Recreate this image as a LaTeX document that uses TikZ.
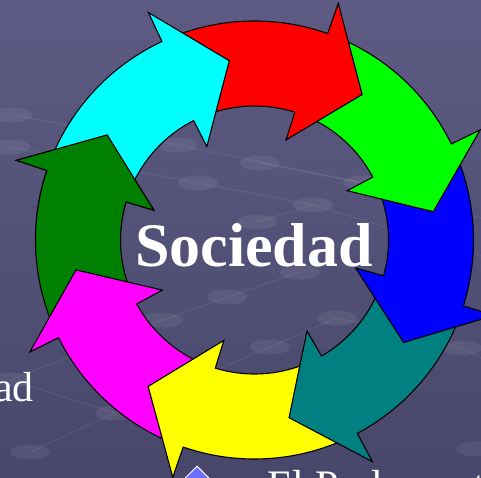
\documentclass[tikz,border=0pt]{standalone}
\usepackage{fontspec}
\setmainfont{Liberation Serif}
\usetikzlibrary{shapes.geometric,calc}

\definecolor{bgtop}{RGB}{93,91,131}
\definecolor{bgbot}{RGB}{72,71,107}
\definecolor{redc}{RGB}{255,0,0}
\definecolor{greenc}{RGB}{0,255,0}
\definecolor{bluec}{RGB}{0,0,255}
\definecolor{tealc}{RGB}{0,128,128}
\definecolor{yellowc}{RGB}{255,255,0}
\definecolor{magentac}{RGB}{255,0,255}
\definecolor{dkgreen}{RGB}{0,128,0}
\definecolor{cyanc}{RGB}{0,255,255}
\definecolor{bulletc}{RGB}{108,108,255}

% one ring arrow: #1 = tip angle, #2 = tail angle
\newcommand{\ringarrow}[2]{(#2:219pt) arc[start angle=#2, end angle=#1+17, radius=219pt]
  -- (#1+17:251pt) -- (#1:181pt) -- (#1+19:105pt) -- (#1+19:134pt)
  arc[start angle=#1+19, end angle=#2, radius=134pt] -- cycle}

\begin{document}
\begin{tikzpicture}[x=1pt,y=1pt]
     \tikzstyle{arrow_style} = [draw=black,line width=1.1pt,line join=miter]
     \tikzstyle{dot_style} = [ellipse,fill=white,fill opacity=0.07,minimum width=40pt,minimum height=15pt,inner sep=0pt]
     \tikzstyle{grid_style} = [draw=white,opacity=0.07,line width=1.2pt]
     \tikzstyle{text_style} = [text=white,inner sep=0pt]
     \useasboundingbox (0,0) rectangle (481,478);
     \clip (0,0) rectangle (481,478);
     \fill[top color=bgtop,bottom color=bgbot] (0,0) rectangle (481,478);
     % background dots
     \node[dot_style] (g1) at (13,363) {};
     \node[dot_style] (g2) at (10,331) {};
     \node[dot_style] (g3) at (177,333) {};
     \node[dot_style] (g4) at (198,295) {};
     \node[dot_style] (g5) at (260,315) {};
     \node[dot_style] (g6) at (363,295) {};
     \node[dot_style] (g7) at (313,273) {};
     \node[dot_style] (g8) at (257,256) {};
     \node[dot_style] (g9) at (300,206) {};
     \node[dot_style] (g10) at (337,160) {};
     \node[dot_style] (g11) at (270,131) {};
     \node[dot_style] (g12) at (163,158) {};
     \node[dot_style] (g13) at (227,181) {};
     \node[dot_style] (g14) at (462,130) {};
     \node[dot_style] (g15) at (476,29) {};
     \node[dot_style] (g16) at (10,98) {};
     \node[dot_style] (g17) at (115,65) {};
     \node[dot_style] (g18) at (30,26) {};
     \coordinate (e1) at (481,222);
     \coordinate (e2) at (481,120);
     \coordinate (e3) at (481,260);
     \draw[grid_style] (g1.center) -- (g3.center) -- (g6.center) -- (e3);
     \draw[grid_style] (g2.center) -- (g4.center) -- (g7.center) -- (e1);
     \draw[grid_style] (g18.center) -- (g17.center) -- (g11.center) -- (g10.center);
     \draw[grid_style] (g16.center) -- (g12.center) -- (g13.center) -- (g9.center);
     \draw[grid_style] (g16.center) -- (g17.center);
     \draw[grid_style] (g10.center) -- (g14.center) -- (e2);
     \draw[grid_style] (g5.center) -- (g6.center);
     \draw[grid_style] (g8.center) -- (g7.center);
     % ring of arrows
     \begin{scope}[shift={(254.5,238)}]
          \draw[arrow_style,fill=dkgreen] \ringarrow{144.5}{204};
          \draw[arrow_style,fill=magentac] \ringarrow{-170.5}{-112};
          \draw[arrow_style,fill=yellowc] \ringarrow{-126}{-65};
          \draw[arrow_style,fill=tealc] \ringarrow{-79}{-20.5};
          \draw[arrow_style,fill=bluec] \ringarrow{-34.5}{23};
          \draw[arrow_style,fill=greenc] \ringarrow{9}{67.5};
          \draw[arrow_style,fill=redc] \ringarrow{53.5}{112};
          \draw[arrow_style,fill=cyanc] \ringarrow{98}{158.5};
          \begin{scope}
               \clip (0,0) -- (139:300pt) arc[start angle=139, end angle=176, radius=300pt] -- cycle;
               \draw[arrow_style,fill=dkgreen] \ringarrow{144.5}{204};
          \end{scope}
     \end{scope}
     % texts
     \node[text_style,anchor=base] (soc) at (254,211) {\fontsize{62}{62}\selectfont\bfseries Sociedad};
     \node[text_style,anchor=base east] (ad) at (34,76) {\fontsize{42}{42}\selectfont ad};
     \node[diamond,fill=bulletc,draw=white,line width=1pt,minimum width=34pt,minimum height=34pt,inner sep=0pt] (bul) at (197,-5) {};
     \node[text_style,anchor=base west] (parl) at (267,-22) {\fontsize{42}{42}\selectfont El Parlament};
\end{tikzpicture}
\end{document}
